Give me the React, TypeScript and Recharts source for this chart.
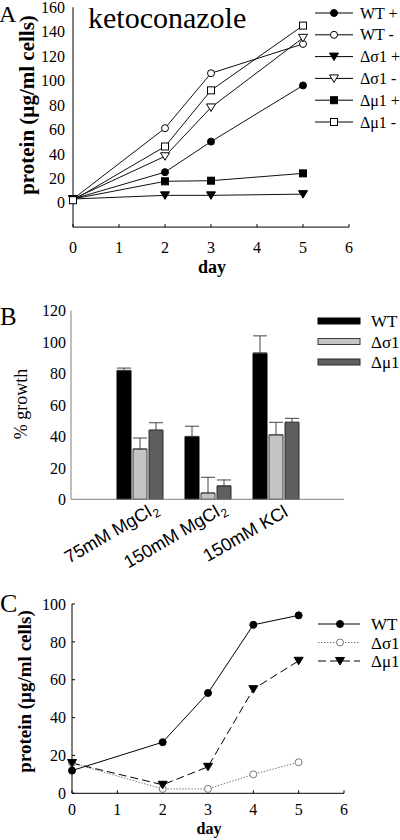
import React from 'react';
import { LineChart, Line, BarChart, Bar, ErrorBar, XAxis, YAxis, Legend } from 'recharts';

const SERIF = '"Liberation Serif", "Times New Roman", serif';
const SANS = '"Liberation Sans", Arial, sans-serif';

// A: protein with ketoconazole (+) / without (-)
const daysA = [0, 2, 3, 5];
const wtPlusA = [3, 25, 50, 96];
const wtMinusA = [3, 61, 106, 130];
const sigPlusA = [3, 6, 6, 7];
const sigMinusA = [3, 38, 78, 135];
const muPlusA = [3, 17.5, 18, 24];
const muMinusA = [2, 46, 92, 145];
const ticksA = [0, 20, 40, 60, 80, 100, 120, 140, 160];
const dayTicks = [0, 1, 2, 3, 4, 5, 6];

// B: % growth under salt stress
const saltGroups = ['75mM MgCl', '150mM MgCl', '150mM KCl'];
const saltSubs = ['2', '2', ''];
const wtB = [82, 40, 93];
const sigB = [32, 4, 41];
const muB = [44, 8.5, 49];
const wtErrB = [1.5, 6.5, 11];
const sigErrB = [7, 10, 8];
const muErrB = [4.7, 3.8, 2.5];
const ticksB = [0, 20, 40, 60, 80, 100, 120];

// C: protein over time
const daysC = [0, 2, 3, 4, 5];
const wtC = [12, 27, 53, 89, 94];
const sigC = [16, 2.3, 2.3, 10, 16.4];
const muC = [16, 4.5, 14, 55, 70];
const ticksC = [0, 20, 40, 60, 80, 100];

const dataA = daysA.map((day, i) => ({
  day,
  wtPlus: wtPlusA[i],
  wtMinus: wtMinusA[i],
  sigPlus: sigPlusA[i],
  sigMinus: sigMinusA[i],
  muPlus: muPlusA[i],
  muMinus: muMinusA[i],
}));

const dataB = saltGroups.map((g, i) => ({
  group: g,
  wt: wtB[i],
  sig: sigB[i],
  mu: muB[i],
  wtErr: [0, wtErrB[i]],
  sigErr: [0, sigErrB[i]],
  muErr: [0, muErrB[i]],
}));

const dataC = daysC.map((day, i) => ({ day, wt: wtC[i], sig: sigC[i], mu: muC[i] }));

const seriesA = [
  { key: 'wtPlus', name: 'WT +', shape: 'circle', filled: true },
  { key: 'wtMinus', name: 'WT -', shape: 'circle', filled: false },
  { key: 'sigPlus', name: 'Δσ1 +', shape: 'triangle', filled: true },
  { key: 'sigMinus', name: 'Δσ1 -', shape: 'triangle', filled: false },
  { key: 'muPlus', name: 'Δμ1 +', shape: 'square', filled: true },
  { key: 'muMinus', name: 'Δμ1 -', shape: 'square', filled: false },
];

const seriesB = [
  { key: 'wt', err: 'wtErr', name: 'WT', fill: '#000000', stroke: '#000000' },
  { key: 'sig', err: 'sigErr', name: 'Δσ1', fill: '#c4c4c4', stroke: '#3a3a3a' },
  { key: 'mu', err: 'muErr', name: 'Δμ1', fill: '#5f5f5f', stroke: '#2a2a2a' },
];

const seriesC = [
  { key: 'wt', name: 'WT', shape: 'circle', filled: true, color: '#000', dash: undefined },
  { key: 'sig', name: 'Δσ1', shape: 'circle', filled: false, color: '#777', dash: '1.5 1.5' },
  { key: 'mu', name: 'Δμ1', shape: 'triangle', filled: true, color: '#000', dash: '8 4' },
];

function Marker({ cx, cy, shape, filled, color = '#000' }: any) {
  const fill = filled ? color : '#fff';
  if (shape === 'square') {
    return <rect x={cx - 3.5} y={cy - 3.5} width={7} height={7} fill={fill} stroke={color} strokeWidth={1} />;
  }
  if (shape === 'triangle') {
    return (
      <path
        d={`M${cx - 4.5},${cy - 3.5}L${cx + 4.5},${cy - 3.5}L${cx},${cy + 4}Z`}
        fill={fill}
        stroke={color}
        strokeWidth={1}
      />
    );
  }
  return <circle cx={cx} cy={cy} r={3.5} fill={fill} stroke={color} strokeWidth={1} />;
}

function AxisTitle({ px, py, text, size, bold = true, vertical = false }: any) {
  return (
    <text
      x={px}
      y={py}
      transform={vertical ? `rotate(-90, ${px}, ${py})` : undefined}
      textAnchor="middle"
      fontFamily={SERIF}
      fontSize={size}
      fontWeight={bold ? 'bold' : 'normal'}
      fill="#000"
    >
      {text}
    </text>
  );
}

// rotated category label, main text ends at the anchor and the subscript follows it
function SaltTick({ x, y, payload }: any) {
  const i = saltGroups.indexOf(payload.value);
  return (
    <g transform={`translate(${x + 13},${y + 16}) rotate(-30)`}>
      <text textAnchor="end" fontFamily={SANS} fontSize={18} fill="#000">
        {payload.value}
      </text>
      <text x={1} y={4} fontFamily={SANS} fontSize={12} fill="#000">
        {saltSubs[i]}
      </text>
    </g>
  );
}

const tickFont = { fontFamily: SERIF, fontSize: 16, fill: '#000' };

const legendA = () => (
  <svg width={90} height={135}>
    {seriesA.map((s, i) => {
      const y = 13 + i * 21.8;
      return (
        <g key={s.key}>
          <line x1={5} x2={43} y1={y} y2={y} stroke="#000" />
          <Marker cx={24} cy={y} shape={s.shape} filled={s.filled} />
          <text x={50} y={y + 5.5} fontFamily={SERIF} fontSize={16}>
            {s.name}
          </text>
        </g>
      );
    })}
  </svg>
);

const legendB = () => (
  <svg width={90} height={100}>
    {seriesB.map((s, i) => {
      const y = 41 + i * 20.5;
      return (
        <g key={s.key}>
          <rect x={8} y={y - 3} width={42} height={6} fill={s.fill} stroke={s.stroke} />
          <text x={61} y={y + 6} fontFamily={SERIF} fontSize={17}>
            {s.name}
          </text>
        </g>
      );
    })}
  </svg>
);

const legendC = () => (
  <svg width={90} height={100}>
    {seriesC.map((s, i) => {
      const y = 44 + i * 18.5;
      return (
        <g key={s.key}>
          <line x1={8} x2={50} y1={y} y2={y} stroke={s.color} strokeDasharray={s.dash} />
          <Marker cx={30} cy={y} shape={s.shape} filled={s.filled} color={s.color} />
          <text x={61} y={y + 6} fontFamily={SERIF} fontSize={17}>
            {s.name}
          </text>
        </g>
      );
    })}
  </svg>
);

export default function App() {
  return (
    <div style={{ position: 'absolute', left: 0, top: 0, width: 400, height: 840, background: '#fff' }}>
      {/* A */}
      <div style={{ position: 'absolute', left: 0, top: 0 }}>
        <LineChart width={400} height={280} data={dataA} margin={{ top: 7.3, right: 51, left: 0, bottom: 12.9 }}>
          <XAxis
            dataKey="day"
            type="number"
            domain={[0, 6]}
            ticks={dayTicks}
            height={40}
            tick={tickFont}
            tickSize={-3}
            tickMargin={17.5}
            axisLine={{ stroke: '#000' }}
            tickLine={{ stroke: '#000' }}
            interval={0}
            label={<AxisTitle px={212} py={273} text="day" size={18} />}
          />
          <YAxis
            type="number"
            domain={[-20, 160]}
            ticks={ticksA}
            width={73}
            tick={tickFont}
            tickSize={0}
            tickMargin={8}
            axisLine={{ stroke: '#000' }}
            tickLine={false}
            interval={0}
            label={<AxisTitle px={34} py={105} text="protein (µg/ml cells)" size={21} vertical />}
          />
          <Legend layout="vertical" align="center" verticalAlign="middle" content={legendA} wrapperStyle={{ left: 310, top: 0, width: 90, height: 135 }} />
          {seriesA.map((s) => (
            <Line
              key={s.key}
              dataKey={s.key}
              name={s.name}
              type="linear"
              stroke="#111"
              strokeWidth={1}
              isAnimationActive={false}
              dot={(p: any) => <Marker key={`${s.key}-${p.index}`} cx={p.cx} cy={p.cy} shape={s.shape} filled={s.filled} />}
              activeDot={false}
            />
          ))}
        </LineChart>
      </div>

      {/* B */}
      <div style={{ position: 'absolute', left: 0, top: 280 }}>
        <BarChart width={400} height={300} data={dataB} barSize={14} barGap={2} margin={{ top: 30.7, right: 56, left: 0, bottom: 20.7 }}>
          <XAxis
            dataKey="group"
            height={60}
            padding={{ left: 35, right: 34 }}
            tick={<SaltTick />}
            tickSize={0}
            tickMargin={0}
            tickLine={false}
            axisLine={{ stroke: '#808080' }}
            interval={0}
          />
          <YAxis
            type="number"
            domain={[0, 120]}
            ticks={ticksB}
            width={71}
            tick={tickFont}
            tickSize={0}
            tickMargin={5}
            tickLine={false}
            interval={0}
            axisLine={{ stroke: '#808080' }}
            label={<AxisTitle px={27} py={124} text="% growth" size={18} bold={false} vertical />}
          />
          <Legend layout="vertical" align="center" verticalAlign="middle" content={legendB} wrapperStyle={{ left: 310, top: 0, width: 90, height: 100 }} />
          {seriesB.map((s) => (
            <Bar key={s.key} dataKey={s.key} name={s.name} fill={s.fill} stroke={s.stroke} strokeWidth={1} isAnimationActive={false}>
              <ErrorBar dataKey={s.err} width={7} stroke="#444" strokeWidth={1} direction="y" isAnimationActive={false} />
            </Bar>
          ))}
        </BarChart>
      </div>

      {/* C */}
      <div style={{ position: 'absolute', left: 0, top: 580 }}>
        <LineChart width={400} height={260} data={dataC} margin={{ top: 24, right: 56, left: 0, bottom: 6.7 }}>
          <XAxis
            dataKey="day"
            type="number"
            domain={[0, 6]}
            ticks={dayTicks}
            height={40}
            tick={tickFont}
            tickSize={-3}
            tickMargin={13.3}
            axisLine={{ stroke: '#000' }}
            tickLine={{ stroke: '#000' }}
            interval={0}
            label={<AxisTitle px={209} py={254} text="day" size={16} />}
          />
          <YAxis
            type="number"
            domain={[0, 100]}
            ticks={ticksC}
            width={72}
            tick={tickFont}
            tickSize={-3}
            tickMargin={9}
            tickLine={{ stroke: '#000' }}
            interval={0}
            axisLine={{ stroke: '#000' }}
            label={<AxisTitle px={31} py={111.5} text="protein (µg/ml cells)" size={19} vertical />}
          />
          <Legend layout="vertical" align="center" verticalAlign="middle" content={legendC} wrapperStyle={{ left: 310, top: 0, width: 90, height: 100 }} />
          {seriesC.map((s) => (
            <Line
              key={s.key}
              dataKey={s.key}
              name={s.name}
              type="linear"
              stroke={s.color}
              strokeDasharray={s.dash}
              strokeWidth={1}
              isAnimationActive={false}
              dot={(p: any) => <Marker key={`${s.key}-${p.index}`} cx={p.cx} cy={p.cy} shape={s.shape} filled={s.filled} color={s.color} />}
              activeDot={false}
            />
          ))}
        </LineChart>
      </div>

      <svg width={400} height={840} style={{ position: 'absolute', left: 0, top: 0, pointerEvents: 'none' }}>
        <text x={-1} y={22} fontFamily={SERIF} fontSize={24}>A</text>
        <text x={88} y={28} fontFamily={SERIF} fontSize={30}>ketoconazole</text>
        <text x={0} y={325} fontFamily={SERIF} fontSize={25}>B</text>
        <text x={0} y={612} fontFamily={SERIF} fontSize={26}>C</text>
      </svg>
    </div>
  );
}
